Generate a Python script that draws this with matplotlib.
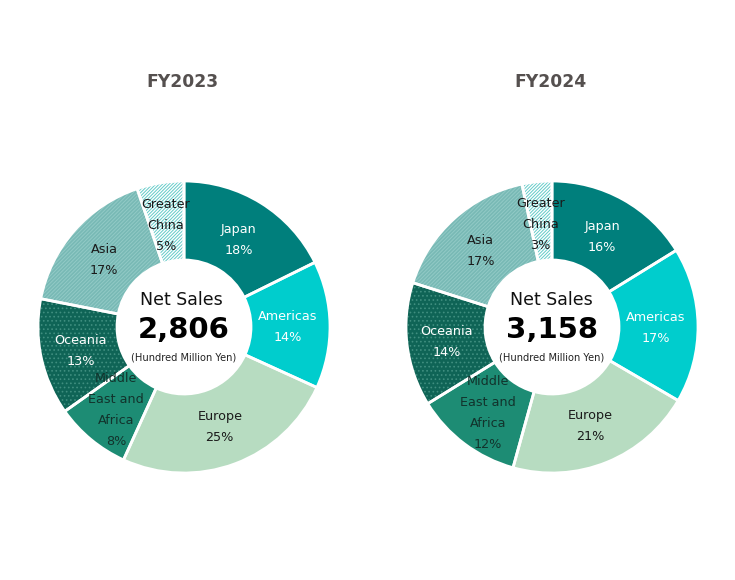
import numpy as np
import matplotlib
matplotlib.use("Agg")
import matplotlib.pyplot as plt

plt.rcParams['font.family'] = ['DejaVu Sans']
plt.rcParams['hatch.linewidth'] = 0.7

categories = ["Japan", "Americas", "Europe", "Middle\nEast and\nAfrica", "Oceania", "Asia", "Greater\nChina"]
fy2023_shares = [17.7, 14.1, 25.0, 8.4, 12.9, 16.7, 5.2]
fy2024_shares = [16.2, 17.2, 20.9, 11.9, 13.7, 16.8, 3.3]
fy2023_labels = ["18%", "14%", "25%", "8%", "13%", "17%", "5%"]
fy2024_labels = ["16%", "17%", "21%", "12%", "14%", "17%", "3%"]
fy2023_total = "2,806"
fy2024_total = "3,158"

base_colors = ["#007f7c", "#00cdcd", "#b7dcc1", "#1d8c74", "#0f6456", "#78b9b5", "#ffffff"]
hatch_colors = [None, None, None, None, "#3f8e7f", "#92cac6", "#62cbc8"]
hatches = [None, None, None, None, "....", "/////////", "//////////"]
text_colors = ["white", "white", "#1a1a1a", "#12332c", "white", "#1a1a1a", "#1a1a1a"]

W, H = 735, 580
R = 146
fig = plt.figure(figsize=(W / 100, H / 100), dpi=100)


def donut(cx, cy, shares, pct, title, title_x, total, total_y, head_x):
    ax = fig.add_axes([(cx - R - 4) / W, 1 - (cy + R + 4) / H, (2 * R + 8) / W, (2 * R + 8) / H])
    wedges, _ = ax.pie(shares, radius=R, startangle=90, counterclock=False, colors=base_colors,
                       wedgeprops=dict(width=R - 67, linewidth=0), frame=False, normalize=True)
    for w, hc, h in zip(wedges, hatch_colors, hatches):
        if h:
            w.set_hatch(h)
            w.set_edgecolor(hc)
    # white separators
    ax.pie(shares, radius=R, startangle=90, counterclock=False, colors=["none"] * len(shares),
           wedgeprops=dict(width=R - 67, linewidth=2, edgecolor="white"), frame=False, normalize=True)
    ax.set_xlim(-R - 4, R + 4)
    ax.set_ylim(-R - 4, R + 4)
    ax.set_aspect("equal")
    ax.axis("off")
    ends = np.cumsum(shares) / np.sum(shares)
    starts = np.r_[0, ends[:-1]]
    for s, e, name, p, tc in zip(starts, ends, categories, pct, text_colors):
        a = 2 * np.pi * (s + e) / 2
        ax.text(105 * np.sin(a) - 1, 105 * np.cos(a) - 2, f"{name}\n{p}", ha="center", va="center",
                fontsize=9.2, color=tc, linespacing=1.82)
    fig.text(title_x / W, 1 - 82 / H, title, ha="center", va="center", fontsize=12.3,
             fontweight="bold", color="#55504f")
    fig.text(head_x / W, 1 - (total_y - 30) / H, "Net Sales", ha="center", va="center", fontsize=12.5, color="#111111")
    fig.text(cx / W, 1 - total_y / H, total, ha="center", va="center", fontsize=21, fontweight="bold", color="black")
    fig.text(cx / W, 1 - (total_y + 27) / H, "(Hundred Million Yen)", ha="center", va="center", fontsize=7.1, color="#222222")


donut(184, 327, fy2023_shares, fy2023_labels, "FY2023", 182, fy2023_total, 330, 181)
donut(552, 327, fy2024_shares, fy2024_labels, "FY2024", 550, fy2024_total, 330, 551)

fig.savefig("out.png", dpi=100, facecolor="white")
